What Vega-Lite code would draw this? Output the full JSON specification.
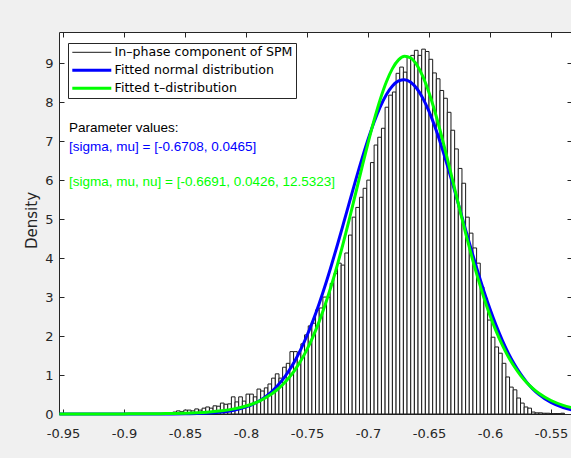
{
  "$schema": "https://vega.github.io/schema/vega-lite/v6.json",
  "width": 513,
  "height": 382,
  "autosize": "none",
  "padding": {"left": 59, "top": 32, "right": 0, "bottom": 44},
  "background": "#f0f0f0",
  "config": {
    "view": {"fill": "white", "stroke": null},
    "axis": {
      "grid": false,
      "domainColor": "#262626",
      "tickColor": "#262626",
      "labelColor": "#262626",
      "labelFont": "DejaVu Sans",
      "labelFontSize": 13,
      "titleFont": "DejaVu Sans",
      "titleColor": "#262626",
      "titleFontWeight": "normal",
      "tickSize": -5,
      "domainWidth": 1,
      "tickWidth": 1
    }
  },
  "datasets": {
    "hist": [
      {"x0": -0.863, "x1": -0.860, "density": 0.03},
      {"x0": -0.860, "x1": -0.857, "density": 0.05},
      {"x0": -0.857, "x1": -0.854, "density": 0.08},
      {"x0": -0.854, "x1": -0.851, "density": 0.06},
      {"x0": -0.851, "x1": -0.848, "density": 0.10},
      {"x0": -0.848, "x1": -0.845, "density": 0.10},
      {"x0": -0.845, "x1": -0.842, "density": 0.08},
      {"x0": -0.842, "x1": -0.839, "density": 0.13},
      {"x0": -0.839, "x1": -0.836, "density": 0.10},
      {"x0": -0.836, "x1": -0.833, "density": 0.15},
      {"x0": -0.833, "x1": -0.830, "density": 0.18},
      {"x0": -0.830, "x1": -0.827, "density": 0.15},
      {"x0": -0.827, "x1": -0.824, "density": 0.21},
      {"x0": -0.824, "x1": -0.821, "density": 0.20},
      {"x0": -0.821, "x1": -0.818, "density": 0.28},
      {"x0": -0.818, "x1": -0.815, "density": 0.25},
      {"x0": -0.815, "x1": -0.812, "density": 0.26},
      {"x0": -0.812, "x1": -0.809, "density": 0.44},
      {"x0": -0.809, "x1": -0.806, "density": 0.31},
      {"x0": -0.806, "x1": -0.803, "density": 0.44},
      {"x0": -0.803, "x1": -0.800, "density": 0.33},
      {"x0": -0.800, "x1": -0.797, "density": 0.51},
      {"x0": -0.797, "x1": -0.794, "density": 0.51},
      {"x0": -0.794, "x1": -0.791, "density": 0.44},
      {"x0": -0.791, "x1": -0.788, "density": 0.64},
      {"x0": -0.788, "x1": -0.785, "density": 0.59},
      {"x0": -0.785, "x1": -0.782, "density": 0.67},
      {"x0": -0.782, "x1": -0.779, "density": 0.77},
      {"x0": -0.779, "x1": -0.776, "density": 0.92},
      {"x0": -0.776, "x1": -0.773, "density": 1.03},
      {"x0": -0.773, "x1": -0.770, "density": 0.92},
      {"x0": -0.770, "x1": -0.767, "density": 1.20},
      {"x0": -0.767, "x1": -0.764, "density": 1.30},
      {"x0": -0.764, "x1": -0.761, "density": 1.60},
      {"x0": -0.761, "x1": -0.758, "density": 1.60},
      {"x0": -0.758, "x1": -0.755, "density": 1.56},
      {"x0": -0.755, "x1": -0.752, "density": 1.80},
      {"x0": -0.752, "x1": -0.749, "density": 2.03},
      {"x0": -0.749, "x1": -0.746, "density": 2.26},
      {"x0": -0.746, "x1": -0.743, "density": 2.33},
      {"x0": -0.743, "x1": -0.740, "density": 2.67},
      {"x0": -0.740, "x1": -0.737, "density": 2.72},
      {"x0": -0.737, "x1": -0.734, "density": 3.00},
      {"x0": -0.734, "x1": -0.731, "density": 3.00},
      {"x0": -0.731, "x1": -0.728, "density": 3.35},
      {"x0": -0.728, "x1": -0.725, "density": 3.60},
      {"x0": -0.725, "x1": -0.722, "density": 3.87},
      {"x0": -0.722, "x1": -0.719, "density": 3.82},
      {"x0": -0.719, "x1": -0.716, "density": 4.13},
      {"x0": -0.716, "x1": -0.713, "density": 4.59},
      {"x0": -0.713, "x1": -0.710, "density": 5.05},
      {"x0": -0.710, "x1": -0.707, "density": 5.30},
      {"x0": -0.707, "x1": -0.704, "density": 5.56},
      {"x0": -0.704, "x1": -0.701, "density": 5.79},
      {"x0": -0.701, "x1": -0.698, "density": 6.00},
      {"x0": -0.698, "x1": -0.695, "density": 6.45},
      {"x0": -0.695, "x1": -0.692, "density": 6.90},
      {"x0": -0.692, "x1": -0.689, "density": 7.10},
      {"x0": -0.689, "x1": -0.686, "density": 7.33},
      {"x0": -0.686, "x1": -0.683, "density": 7.87},
      {"x0": -0.683, "x1": -0.680, "density": 8.18},
      {"x0": -0.680, "x1": -0.677, "density": 8.26},
      {"x0": -0.677, "x1": -0.674, "density": 8.74},
      {"x0": -0.674, "x1": -0.671, "density": 8.90},
      {"x0": -0.671, "x1": -0.668, "density": 8.77},
      {"x0": -0.668, "x1": -0.665, "density": 9.15},
      {"x0": -0.665, "x1": -0.662, "density": 9.20},
      {"x0": -0.662, "x1": -0.659, "density": 9.33},
      {"x0": -0.659, "x1": -0.656, "density": 9.20},
      {"x0": -0.656, "x1": -0.653, "density": 9.36},
      {"x0": -0.653, "x1": -0.650, "density": 9.30},
      {"x0": -0.650, "x1": -0.647, "density": 9.10},
      {"x0": -0.647, "x1": -0.644, "density": 8.75},
      {"x0": -0.644, "x1": -0.641, "density": 8.60},
      {"x0": -0.641, "x1": -0.638, "density": 8.30},
      {"x0": -0.638, "x1": -0.635, "density": 8.10},
      {"x0": -0.635, "x1": -0.632, "density": 7.74},
      {"x0": -0.632, "x1": -0.629, "density": 7.28},
      {"x0": -0.629, "x1": -0.626, "density": 6.80},
      {"x0": -0.626, "x1": -0.623, "density": 6.30},
      {"x0": -0.623, "x1": -0.620, "density": 5.92},
      {"x0": -0.620, "x1": -0.617, "density": 5.05},
      {"x0": -0.617, "x1": -0.614, "density": 4.64},
      {"x0": -0.614, "x1": -0.611, "density": 4.26},
      {"x0": -0.611, "x1": -0.608, "density": 3.87},
      {"x0": -0.608, "x1": -0.605, "density": 3.26},
      {"x0": -0.605, "x1": -0.602, "density": 2.97},
      {"x0": -0.602, "x1": -0.599, "density": 2.41},
      {"x0": -0.599, "x1": -0.596, "density": 1.97},
      {"x0": -0.596, "x1": -0.593, "density": 1.72},
      {"x0": -0.593, "x1": -0.590, "density": 1.56},
      {"x0": -0.590, "x1": -0.587, "density": 1.30},
      {"x0": -0.587, "x1": -0.584, "density": 0.95},
      {"x0": -0.584, "x1": -0.581, "density": 0.69},
      {"x0": -0.581, "x1": -0.578, "density": 0.62},
      {"x0": -0.578, "x1": -0.575, "density": 0.41},
      {"x0": -0.575, "x1": -0.572, "density": 0.28},
      {"x0": -0.572, "x1": -0.569, "density": 0.18},
      {"x0": -0.569, "x1": -0.566, "density": 0.15},
      {"x0": -0.566, "x1": -0.563, "density": 0.05},
      {"x0": -0.563, "x1": -0.560, "density": 0.03},
      {"x0": -0.560, "x1": -0.557, "density": 0.03},
      {"x0": -0.557, "x1": -0.554, "density": 0.02},
      {"x0": -0.554, "x1": -0.551, "density": 0.02},
      {"x0": -0.551, "x1": -0.548, "density": 0.01},
      {"x0": -0.548, "x1": -0.545, "density": 0.01},
      {"x0": -0.545, "x1": -0.542, "density": 0.01},
      {"x0": -0.542, "x1": -0.539, "density": 0.02}
    ],
    "curves": [
      {"series": "Fitted normal distribution", "x": -0.953, "density": 0},
      {"series": "Fitted normal distribution", "x": -0.9, "density": 0},
      {"series": "Fitted normal distribution", "x": -0.87, "density": 0.001},
      {"series": "Fitted normal distribution", "x": -0.86, "density": 0.002},
      {"series": "Fitted normal distribution", "x": -0.85, "density": 0.005},
      {"series": "Fitted normal distribution", "x": -0.84, "density": 0.011},
      {"series": "Fitted normal distribution", "x": -0.83, "density": 0.024},
      {"series": "Fitted normal distribution", "x": -0.82, "density": 0.050},
      {"series": "Fitted normal distribution", "x": -0.81, "density": 0.097},
      {"series": "Fitted normal distribution", "x": -0.80, "density": 0.181},
      {"series": "Fitted normal distribution", "x": -0.79, "density": 0.321},
      {"series": "Fitted normal distribution", "x": -0.78, "density": 0.545},
      {"series": "Fitted normal distribution", "x": -0.775, "density": 0.697},
      {"series": "Fitted normal distribution", "x": -0.77, "density": 0.882},
      {"series": "Fitted normal distribution", "x": -0.765, "density": 1.102},
      {"series": "Fitted normal distribution", "x": -0.76, "density": 1.362},
      {"series": "Fitted normal distribution", "x": -0.755, "density": 1.665},
      {"series": "Fitted normal distribution", "x": -0.75, "density": 2.013},
      {"series": "Fitted normal distribution", "x": -0.745, "density": 2.402},
      {"series": "Fitted normal distribution", "x": -0.74, "density": 2.835},
      {"series": "Fitted normal distribution", "x": -0.735, "density": 3.308},
      {"series": "Fitted normal distribution", "x": -0.73, "density": 3.817},
      {"series": "Fitted normal distribution", "x": -0.725, "density": 4.349},
      {"series": "Fitted normal distribution", "x": -0.72, "density": 4.902},
      {"series": "Fitted normal distribution", "x": -0.715, "density": 5.461},
      {"series": "Fitted normal distribution", "x": -0.71, "density": 6.013},
      {"series": "Fitted normal distribution", "x": -0.705, "density": 6.546},
      {"series": "Fitted normal distribution", "x": -0.70, "density": 7.043},
      {"series": "Fitted normal distribution", "x": -0.695, "density": 7.493},
      {"series": "Fitted normal distribution", "x": -0.69, "density": 7.878},
      {"series": "Fitted normal distribution", "x": -0.685, "density": 8.188},
      {"series": "Fitted normal distribution", "x": -0.68, "density": 8.413},
      {"series": "Fitted normal distribution", "x": -0.675, "density": 8.544},
      {"series": "Fitted normal distribution", "x": -0.67, "density": 8.578},
      {"series": "Fitted normal distribution", "x": -0.665, "density": 8.513},
      {"series": "Fitted normal distribution", "x": -0.66, "density": 8.351},
      {"series": "Fitted normal distribution", "x": -0.655, "density": 8.098},
      {"series": "Fitted normal distribution", "x": -0.65, "density": 7.762},
      {"series": "Fitted normal distribution", "x": -0.645, "density": 7.356},
      {"series": "Fitted normal distribution", "x": -0.64, "density": 6.889},
      {"series": "Fitted normal distribution", "x": -0.635, "density": 6.378},
      {"series": "Fitted normal distribution", "x": -0.63, "density": 5.838},
      {"series": "Fitted normal distribution", "x": -0.625, "density": 5.282},
      {"series": "Fitted normal distribution", "x": -0.62, "density": 4.724},
      {"series": "Fitted normal distribution", "x": -0.615, "density": 4.176},
      {"series": "Fitted normal distribution", "x": -0.61, "density": 3.650},
      {"series": "Fitted normal distribution", "x": -0.605, "density": 3.152},
      {"series": "Fitted normal distribution", "x": -0.60, "density": 2.692},
      {"series": "Fitted normal distribution", "x": -0.595, "density": 2.273},
      {"series": "Fitted normal distribution", "x": -0.59, "density": 1.896},
      {"series": "Fitted normal distribution", "x": -0.585, "density": 1.563},
      {"series": "Fitted normal distribution", "x": -0.58, "density": 1.275},
      {"series": "Fitted normal distribution", "x": -0.575, "density": 1.028},
      {"series": "Fitted normal distribution", "x": -0.57, "density": 0.819},
      {"series": "Fitted normal distribution", "x": -0.565, "density": 0.645},
      {"series": "Fitted normal distribution", "x": -0.56, "density": 0.502},
      {"series": "Fitted normal distribution", "x": -0.55, "density": 0.294},
      {"series": "Fitted normal distribution", "x": -0.54, "density": 0.164},
      {"series": "Fitted normal distribution", "x": -0.533, "density": 0.106},
      {"series": "Fitted t–distribution", "x": -0.953, "density": 0.0003},
      {"series": "Fitted t–distribution", "x": -0.92, "density": 0.001},
      {"series": "Fitted t–distribution", "x": -0.9, "density": 0.003},
      {"series": "Fitted t–distribution", "x": -0.88, "density": 0.006},
      {"series": "Fitted t–distribution", "x": -0.87, "density": 0.009},
      {"series": "Fitted t–distribution", "x": -0.86, "density": 0.014},
      {"series": "Fitted t–distribution", "x": -0.85, "density": 0.022},
      {"series": "Fitted t–distribution", "x": -0.84, "density": 0.034},
      {"series": "Fitted t–distribution", "x": -0.83, "density": 0.054},
      {"series": "Fitted t–distribution", "x": -0.82, "density": 0.084},
      {"series": "Fitted t–distribution", "x": -0.81, "density": 0.131},
      {"series": "Fitted t–distribution", "x": -0.80, "density": 0.205},
      {"series": "Fitted t–distribution", "x": -0.79, "density": 0.319},
      {"series": "Fitted t–distribution", "x": -0.78, "density": 0.493},
      {"series": "Fitted t–distribution", "x": -0.775, "density": 0.609},
      {"series": "Fitted t–distribution", "x": -0.77, "density": 0.751},
      {"series": "Fitted t–distribution", "x": -0.765, "density": 0.923},
      {"series": "Fitted t–distribution", "x": -0.76, "density": 1.127},
      {"series": "Fitted t–distribution", "x": -0.755, "density": 1.371},
      {"series": "Fitted t–distribution", "x": -0.75, "density": 1.659},
      {"series": "Fitted t–distribution", "x": -0.745, "density": 1.992},
      {"series": "Fitted t–distribution", "x": -0.74, "density": 2.377},
      {"series": "Fitted t–distribution", "x": -0.735, "density": 2.815},
      {"series": "Fitted t–distribution", "x": -0.73, "density": 3.302},
      {"series": "Fitted t–distribution", "x": -0.725, "density": 3.841},
      {"series": "Fitted t–distribution", "x": -0.72, "density": 4.424},
      {"series": "Fitted t–distribution", "x": -0.715, "density": 5.040},
      {"series": "Fitted t–distribution", "x": -0.71, "density": 5.679},
      {"series": "Fitted t–distribution", "x": -0.705, "density": 6.322},
      {"series": "Fitted t–distribution", "x": -0.70, "density": 6.950},
      {"series": "Fitted t–distribution", "x": -0.695, "density": 7.540},
      {"series": "Fitted t–distribution", "x": -0.69, "density": 8.070},
      {"series": "Fitted t–distribution", "x": -0.685, "density": 8.517},
      {"series": "Fitted t–distribution", "x": -0.68, "density": 8.861},
      {"series": "Fitted t–distribution", "x": -0.675, "density": 9.085},
      {"series": "Fitted t–distribution", "x": -0.67, "density": 9.177},
      {"series": "Fitted t–distribution", "x": -0.665, "density": 9.133},
      {"series": "Fitted t–distribution", "x": -0.66, "density": 8.956},
      {"series": "Fitted t–distribution", "x": -0.655, "density": 8.654},
      {"series": "Fitted t–distribution", "x": -0.65, "density": 8.242},
      {"series": "Fitted t–distribution", "x": -0.645, "density": 7.739},
      {"series": "Fitted t–distribution", "x": -0.64, "density": 7.168},
      {"series": "Fitted t–distribution", "x": -0.635, "density": 6.550},
      {"series": "Fitted t–distribution", "x": -0.63, "density": 5.910},
      {"series": "Fitted t–distribution", "x": -0.625, "density": 5.269},
      {"series": "Fitted t–distribution", "x": -0.62, "density": 4.642},
      {"series": "Fitted t–distribution", "x": -0.615, "density": 4.046},
      {"series": "Fitted t–distribution", "x": -0.61, "density": 3.491},
      {"series": "Fitted t–distribution", "x": -0.605, "density": 2.984},
      {"series": "Fitted t–distribution", "x": -0.60, "density": 2.528},
      {"series": "Fitted t–distribution", "x": -0.595, "density": 2.125},
      {"series": "Fitted t–distribution", "x": -0.59, "density": 1.772},
      {"series": "Fitted t–distribution", "x": -0.585, "density": 1.469},
      {"series": "Fitted t–distribution", "x": -0.58, "density": 1.211},
      {"series": "Fitted t–distribution", "x": -0.575, "density": 0.992},
      {"series": "Fitted t–distribution", "x": -0.57, "density": 0.809},
      {"series": "Fitted t–distribution", "x": -0.565, "density": 0.657},
      {"series": "Fitted t–distribution", "x": -0.56, "density": 0.532},
      {"series": "Fitted t–distribution", "x": -0.55, "density": 0.346},
      {"series": "Fitted t–distribution", "x": -0.54, "density": 0.223},
      {"series": "Fitted t–distribution", "x": -0.533, "density": 0.163}
    ]
  },
  "resolve": {"axis": {"x": "independent", "y": "independent"}},
  "layer": [
    {
      "data": {"name": "hist"},
      "mark": {"type": "rect", "fill": "white", "strokeWidth": 1},
      "encoding": {
        "x": {
          "field": "x0", "type": "quantitative",
          "scale": {"domain": [-0.9533, -0.5328], "nice": false, "zero": false},
          "axis": {
            "orient": "bottom", "title": null,
            "values": [-0.95, -0.9, -0.85, -0.8, -0.75, -0.7, -0.65, -0.6, -0.55],
            "labelExpr": "replace(format(datum.value, '~g'), '\u2212', '-')",
            "labelPadding": 18
          }
        },
        "x2": {"field": "x1"},
        "y": {
          "field": "density", "type": "quantitative",
          "scale": {"domain": [0, 9.8], "nice": false, "zero": true},
          "axis": {
            "orient": "left", "title": "Density",
            "values": [0, 1, 2, 3, 4, 5, 6, 7, 8, 9],
            "labelPadding": 11,
            "titleFontSize": 15,
            "titleX": -28, "titleY": 188,
            "titleAlign": "center", "titleBaseline": "middle", "titleAngle": -90
          }
        },
        "y2": {"datum": 0},
        "stroke": {
          "datum": "In–phase component of SPM", "type": "nominal",
          "scale": {
            "domain": ["In–phase component of SPM", "Fitted normal distribution", "Fitted t–distribution"],
            "range": ["#1a1a1a", "#0000ff", "#00ff00"]
          },
          "legend": {
            "title": null, "orient": "none", "legendX": 9, "legendY": 11,
            "symbolType": "M-10.5,0H9", "symbolSize": 16, "symbolOffset": 16,
            "labelOffset": 15, "padding": 3, "rowPadding": 5, "columnPadding": 0,
            "strokeColor": "#262626", "fillColor": "white",
            "labelFont": "DejaVu Sans", "labelFontSize": 12.6, "labelColor": "black", "labelLimit": 400,
            "encode": {
              "symbols": {
                "update": {
                  "strokeWidth": {"signal": "datum.value === 'In–phase component of SPM' ? 1 : 3"},
                  "fill": {"value": "transparent"}
                }
              }
            }
          }
        }
      }
    },
    {
      "data": {"name": "curves"},
      "mark": {"type": "line", "interpolate": "monotone", "strokeWidth": 3},
      "encoding": {
        "x": {
          "field": "x", "type": "quantitative",
          "axis": {"orient": "top", "labels": false, "title": null,
                   "values": [-0.95, -0.9, -0.85, -0.8, -0.75, -0.7, -0.65, -0.6, -0.55]}
        },
        "y": {
          "field": "density", "type": "quantitative",
          "axis": {"orient": "right", "labels": false, "title": null,
                   "values": [0, 1, 2, 3, 4, 5, 6, 7, 8, 9]}
        },
        "stroke": {
          "field": "series", "type": "nominal",
          "legend": {
            "title": null, "orient": "none", "legendX": 9, "legendY": 11,
            "symbolType": "M-10.5,0H9", "symbolSize": 16, "symbolOffset": 16,
            "labelOffset": 15, "padding": 3, "rowPadding": 5, "columnPadding": 0,
            "strokeColor": "#262626", "fillColor": "white",
            "labelFont": "DejaVu Sans", "labelFontSize": 12.6, "labelColor": "black", "labelLimit": 400,
            "encode": {
              "symbols": {
                "update": {
                  "strokeWidth": {"signal": "datum.value === 'In–phase component of SPM' ? 1 : 3"},
                  "fill": {"value": "transparent"}
                }
              }
            }
          }
        }
      }
    },
    {
      "data": {"values": [{}]},
      "mark": {"type": "text", "align": "left", "baseline": "middle", "font": "Liberation Sans", "fontSize": 13.5, "color": "black"},
      "encoding": {
        "x": {"datum": -0.9451, "type": "quantitative", "axis": null},
        "y": {"datum": 7.333, "type": "quantitative", "axis": null},
        "text": {"value": "Parameter values:"}
      }
    },
    {
      "data": {"values": [{}]},
      "mark": {"type": "text", "align": "left", "baseline": "middle", "font": "Liberation Sans", "fontSize": 13.5, "color": "#0000ff"},
      "encoding": {
        "x": {"datum": -0.9451, "type": "quantitative", "axis": null},
        "y": {"datum": 6.846, "type": "quantitative", "axis": null},
        "text": {"value": "[sigma, mu] = [-0.6708, 0.0465]"}
      }
    },
    {
      "data": {"values": [{}]},
      "mark": {"type": "text", "align": "left", "baseline": "middle", "font": "Liberation Sans", "fontSize": 13.5, "color": "#00ff00"},
      "encoding": {
        "x": {"datum": -0.9451, "type": "quantitative", "axis": null},
        "y": {"datum": 5.949, "type": "quantitative", "axis": null},
        "text": {"value": "[sigma, mu, nu] = [-0.6691, 0.0426, 12.5323]"}
      }
    }
  ]
}
